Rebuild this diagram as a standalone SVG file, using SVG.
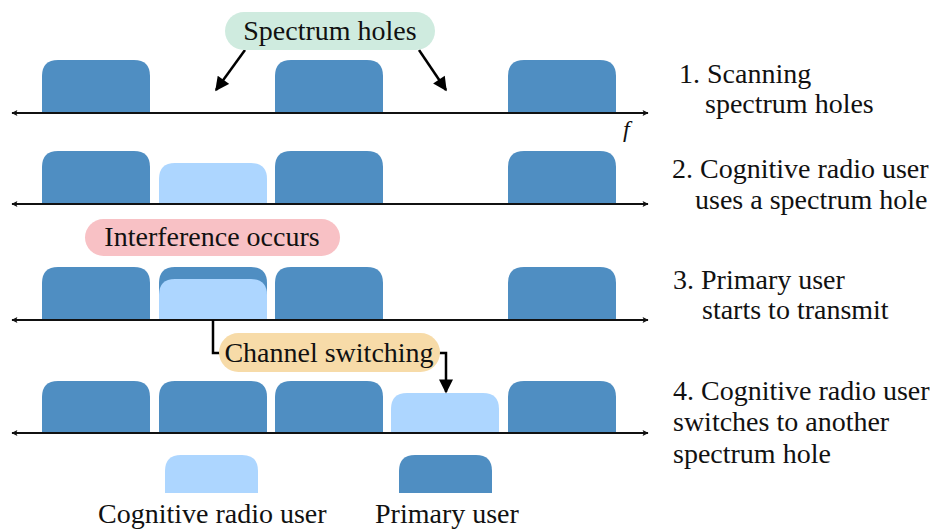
<svg xmlns="http://www.w3.org/2000/svg" width="932" height="529" viewBox="0 0 932 529">
<defs>
<style>
text{font-family:'Liberation Serif','DejaVu Serif','Times New Roman',serif;font-size:28px;fill:#111}
.pu{fill:#4F8EC2}
.cr{fill:#ADD6FF}
.ax{stroke:#111;stroke-width:2;fill:none}
.cn{stroke:#000;stroke-width:2.5;fill:none}
.mid{text-anchor:middle}
</style>
<marker id="ah" viewBox="0 0 10 10" refX="9" refY="5" markerWidth="8" markerHeight="6" orient="auto-start-reverse" markerUnits="userSpaceOnUse">
<path d="M0,0 L10,5 L0,10 L2,5 z" fill="#111"/>
</marker>
<marker id="big" viewBox="0 0 10 10" refX="9" refY="5" markerWidth="16" markerHeight="14" orient="auto" markerUnits="userSpaceOnUse">
<path d="M0,0 L10,5 L0,10 z" fill="#000"/>
</marker>
<path id="blk" d="M0,53 V16 Q0,0 16,0 H92 Q108,0 108,16 V53 z"/>
</defs>
<rect width="932" height="529" fill="#fff"/>

<g id="row1">
<use href="#blk" class="pu" x="42" y="60"/>
<use href="#blk" class="pu" x="275" y="60"/>
<use href="#blk" class="pu" x="508" y="60"/>
<line class="ax" x1="12" y1="113" x2="648" y2="113" marker-start="url(#ah)" marker-end="url(#ah)"/>
<text x="623" y="137" font-style="italic" style="font-size:24px">f</text>
</g>

<g id="row2">
<use href="#blk" class="pu" x="42" y="151"/>
<use href="#blk" class="pu" x="275" y="151"/>
<use href="#blk" class="pu" x="508" y="151"/>
<path class="cr" d="M159,204 V179 Q159,163 175,163 H251 Q267,163 267,179 V204 z"/>
<line class="ax" x1="12" y1="204" x2="648" y2="204" marker-start="url(#ah)" marker-end="url(#ah)"/>
</g>

<g id="row3">
<use href="#blk" class="pu" x="42" y="267"/>
<use href="#blk" class="pu" x="159" y="267"/>
<use href="#blk" class="pu" x="275" y="267"/>
<use href="#blk" class="pu" x="508" y="267"/>
<path class="cr" d="M159,320 V295 Q159,279 175,279 H251 Q267,279 267,295 V320 z"/>
<line class="ax" x1="12" y1="320" x2="648" y2="320" marker-start="url(#ah)" marker-end="url(#ah)"/>
</g>

<g id="row4">
<use href="#blk" class="pu" x="42" y="381"/>
<use href="#blk" class="pu" x="159" y="381"/>
<use href="#blk" class="pu" x="275" y="381"/>
<path class="cr" d="M391,434 V409 Q391,393 407,393 H483 Q499,393 499,409 V434 z"/>
<use href="#blk" class="pu" x="508" y="381"/>
<line class="ax" x1="12" y1="433" x2="648" y2="433" marker-start="url(#ah)" marker-end="url(#ah)"/>
</g>

<g id="connectors">
<line class="cn" x1="245" y1="50" x2="216" y2="90" marker-end="url(#big)"/>
<line class="cn" x1="419" y1="50" x2="446" y2="90" marker-end="url(#big)"/>
<polyline class="cn" points="213,320 213,353 220,353"/>
<polyline class="cn" points="439,353 446,353 446,392" marker-end="url(#big)"/>
</g>

<g id="spectrum-holes">
<rect x="225" y="12" width="210" height="38" rx="19" fill="#CFEBDF"/>
<text class="mid" x="330" y="40">Spectrum holes</text>
</g>

<g id="interference">
<rect x="85" y="219" width="255" height="37" rx="18.5" fill="#F8C1C5"/>
<text class="mid" x="212" y="246">Interference occurs</text>
</g>

<g id="channel-switching">
<rect x="219" y="333" width="221" height="39" rx="19.5" fill="#F7DBA8"/>
<text class="mid" x="329" y="362">Channel switching</text>
</g>

<g id="steps">
<text x="679" y="83">1. Scanning</text>
<text x="705" y="113">spectrum holes</text>
<text x="672" y="178">2. Cognitive radio user</text>
<text x="695" y="209">uses a spectrum hole</text>
<text x="673" y="289">3. Primary user</text>
<text x="702" y="319">starts to transmit</text>
<text x="673" y="400">4. Cognitive radio user</text>
<text x="673" y="431">switches to another</text>
<text x="673" y="463">spectrum hole</text>
</g>

<g id="legend-cr">
<path class="cr" d="M165,493 V471 Q165,455 181,455 H242 Q258,455 258,471 V493 z"/>
<text x="98" y="523">Cognitive radio user</text>
</g>
<g id="legend-pu">
<path class="pu" d="M399,493 V471 Q399,455 415,455 H476 Q492,455 492,471 V493 z"/>
<text x="375" y="523">Primary user</text>
</g>
</svg>
